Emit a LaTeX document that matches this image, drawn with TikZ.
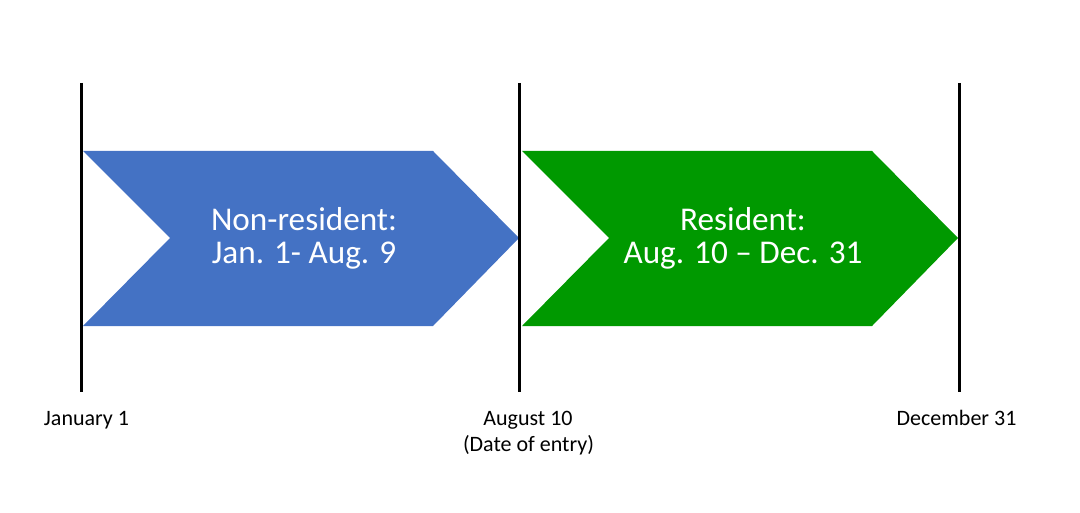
\documentclass[tikz,border=0pt]{standalone}
\usepackage{fontspec}
\setmainfont{Carlito}
\definecolor{nonresblue}{HTML}{4472C4}
\definecolor{resgreen}{HTML}{009900}
\tikzstyle{dateline} = [line width=2.25pt, black]
\tikzstyle{datelabel} = [anchor=base, inner sep=0pt, font=\fontsize{16.5}{20}\selectfont]
\tikzstyle{chevtext} = [anchor=base, inner sep=0pt, text=white, font=\fontsize{24.9}{25}\selectfont]

\begin{document}
\begin{tikzpicture}[x=0.75pt, y=-0.75pt]
      \useasboundingbox (0,0) rectangle (1080,513);

      % chevrons
      \fill[nonresblue] (83,151) -- (433,151) -- (519,238) -- (433,326) -- (83,326) -- (170,238) -- cycle;
      \fill[resgreen] (522,151) -- (872,151) -- (958,238) -- (872,326) -- (522,326) -- (609,238) -- cycle;

      \node[chevtext] (nonres1) at (304,230) {Non-resident:};
      \node[chevtext] (nonres2) at (304,263) {Jan. 1- Aug. 9};
      \node[chevtext] (res1) at (743,230) {Resident:};
      \node[chevtext] (res2) at (743,263) {Aug. 10 -- Dec. 31};

      % date lines
      \coordinate (jan top) at (81,83);
      \coordinate (jan bot) at (81,392);
      \coordinate (aug top) at (519,83);
      \coordinate (aug bot) at (519,392);
      \coordinate (dec top) at (959,83);
      \coordinate (dec bot) at (959,392);

      \draw[dateline] (jan top) -- (jan bot);
      \draw[dateline] (aug top) -- (aug bot);
      \draw[dateline] (dec top) -- (dec bot);

      \node[datelabel] (jan) at (86.5,425) {January 1};
      \node[datelabel] (aug) at (528,425) {August 10};
      \node[datelabel] (entry) at (528.5,451) {(Date of entry)};
      \node[datelabel] (dec) at (956.5,425) {December 31};
    \end{tikzpicture}
\end{document}
